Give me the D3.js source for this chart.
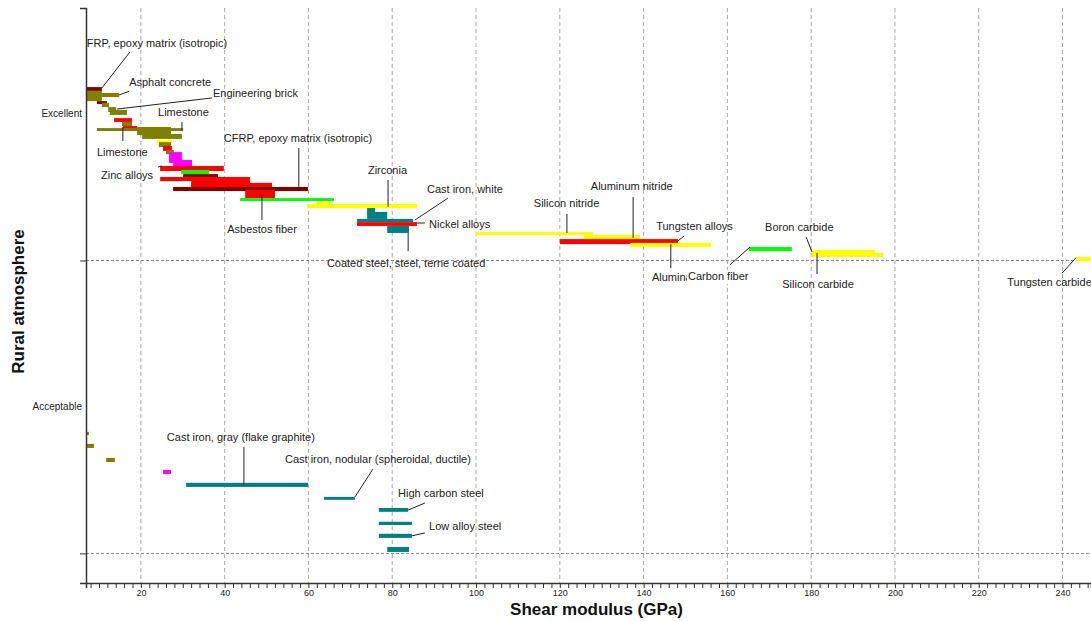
<!DOCTYPE html>
<html>
<head>
<meta charset="utf-8">
<script src="https://cdn.jsdelivr.net/npm/d3@7/dist/d3.min.js"></script>
<style>
  html, body { margin: 0; padding: 0; background: #fff; }
  svg { display: block; font-family: "Liberation Sans", Arial, sans-serif; }
</style>
</head>
<body>
<svg id="chart" width="1091" height="621"></svg>
<script>
// Rating levels on the vertical axis (Acceptable = 1, Excellent = 2)
const ratingLabels = ["Acceptable", "Excellent"];
const ratingValues = [1, 2];
const ratingBounds = [0.5, 1.5];

// Shear modulus tick values (GPa)
const xTickValues = [20, 40, 60, 80, 100, 120, 140, 160, 180, 200, 220, 240];

// Material family colours
const familyColors = {
  composite: "#800000",
  ceramic: "#808000",
  steelRed: "#ff0000",
  techCeramic: "#ffff00",
  fiber: "#00ff00",
  zinc: "#ff00ff",
  ferrous: "#008080"
};

// Material bubbles: [family, G low, G high, rating top, rating bottom]
const materialsExcellent = [
  ["composite", 6.0, 10.7, 2.092, 2.079],
  ["ceramic", 6.0, 10.7, 2.079, 2.044],
  ["ceramic", 10.7, 14.8, 2.072, 2.058],
  ["composite", 9.5, 11.9, 2.044, 2.034],
  ["ceramic", 10.7, 12.4, 2.038, 2.024],
  ["ceramic", 12.2, 14.1, 2.024, 2.007],
  ["ceramic", 12.6, 16.7, 2.014, 1.997],
  ["steelRed", 13.6, 17.9, 1.986, 1.973],
  ["ceramic", 15.5, 17.9, 1.973, 1.959],
  ["steelRed", 15.7, 19.1, 1.959, 1.949],
  ["ceramic", 9.5, 30.1, 1.952, 1.942],
  ["ceramic", 19.1, 27.2, 1.956, 1.928],
  ["ceramic", 20.3, 29.8, 1.932, 1.915],
  ["techCeramic", 23.85, 27.4, 1.911, 1.901],
  ["ceramic", 24.3, 27.2, 1.904, 1.887],
  ["steelRed", 25.3, 27.4, 1.891, 1.874],
  ["ceramic", 26.0, 27.9, 1.877, 1.863],
  ["zinc", 26.7, 29.8, 1.870, 1.833],
  ["zinc", 27.7, 32.2, 1.843, 1.819],
  ["steelRed", 24.6, 39.8, 1.8225, 1.8055],
  ["fiber", 29.6, 36.3, 1.809, 1.795],
  ["composite", 30.1, 38.4, 1.795, 1.782],
  ["steelRed", 24.6, 46.05, 1.785, 1.771],
  ["steelRed", 32.0, 46.05, 1.785, 1.747],
  ["steelRed", 32.0, 51.3, 1.765, 1.747],
  ["composite", 27.7, 59.9, 1.751, 1.737],
  ["steelRed", 44.9, 52.0, 1.741, 1.713],
  ["fiber", 43.7, 66.1, 1.713, 1.703],
  ["techCeramic", 62.0, 65.2, 1.700, 1.689],
  ["techCeramic", 59.7, 85.9, 1.693, 1.679],
  ["ferrous", 74.0, 75.9, 1.679, 1.662],
  ["ferrous", 74.0, 78.8, 1.666, 1.642],
  ["ferrous", 71.6, 85.0, 1.642, 1.631],
  ["steelRed", 71.6, 85.9, 1.631, 1.618],
  ["ferrous", 78.8, 84.0, 1.618, 1.594],
  ["techCeramic", 99.8, 127.9, 1.597, 1.587],
  ["techCeramic", 125.8, 139.2, 1.587, 1.573],
  ["steelRed", 120.0, 148.2, 1.573, 1.556],
  ["techCeramic", 136.8, 156.1, 1.560, 1.546],
  ["fiber", 165.2, 175.4, 1.546, 1.532],
  ["techCeramic", 180.2, 195.3, 1.536, 1.519],
  ["techCeramic", 180.2, 197.2, 1.526, 1.512],
  ["techCeramic", 243.2, 252.0, 1.512, 1.498]
];

const materialsAcceptable = [
  ["ceramic", 6.0, 7.6, 0.915, 0.904],
  ["ceramic", 7.1, 8.8, 0.874, 0.860],
  ["ceramic", 11.7, 13.8, 0.826, 0.812],
  ["zinc", 25.3, 27.2, 0.785, 0.771],
  ["ferrous", 30.8, 59.9, 0.741, 0.727],
  ["ferrous", 63.7, 71.1, 0.693, 0.683],
  ["ferrous", 76.8, 83.8, 0.655, 0.642],
  ["ferrous", 76.8, 84.7, 0.608, 0.597],
  ["ferrous", 76.8, 84.7, 0.567, 0.553],
  ["ferrous", 78.8, 84.0, 0.522, 0.505]
];

// Labels: text, anchor (G, rating) and leader from (G, rating) to (G, rating)
const labelTexts = [
  "FRP, epoxy matrix (isotropic)", "Asphalt concrete", "Engineering brick", "Limestone",
  "Limestone", "Zinc alloys", "CFRP, epoxy matrix (isotropic)", "Asbestos fiber",
  "Zirconia", "Cast iron, white", "Nickel alloys", "Coated steel, steel, terne coated",
  "Silicon nitride", "Aluminum nitride", "Tungsten alloys", "Alumina", "Carbon fiber",
  "Boron carbide", "Silicon carbide", "Tungsten carbide",
  "Cast iron, gray (flake graphite)", "Cast iron, nodular (spheroidal, ductile)",
  "High carbon steel", "Low alloy steel"
];
const labelAnchors = [
  [7.1, 2.239], [17.2, 2.106], [37.2, 2.068], [24.1, 2.003],
  [9.5, 1.867], [10.5, 1.788], [39.8, 1.915], [40.6, 1.604],
  [74.2, 1.805], [88.3, 1.741], [88.8, 1.621], [64.4, 1.488],
  [113.8, 1.693], [127.4, 1.751], [143.0, 1.614], [142.0, 1.440], [150.6, 1.444],
  [169.0, 1.611], [173.1, 1.416], [226.8, 1.423],
  [26.2, 0.894], [54.4, 0.819],
  [81.4, 0.703], [88.8, 0.590]
];
const leaderLines = [
  [17.4, 2.212, 10.7, 2.089], [17.2, 2.078, 14.8, 2.065], [37.0, 2.055, 14.3, 2.017], [29.8, 1.973, 29.8, 1.945],
  [15.7, 1.956, 15.7, 1.908], [24.1, 1.819, 25.0, 1.823], [57.7, 1.884, 57.7, 1.741], [48.9, 1.724, 48.9, 1.638],
  [79.0, 1.775, 79.0, 1.683], [93.3, 1.713, 85.4, 1.638], [87.8, 1.628, 85.9, 1.628], [83.8, 1.594, 83.8, 1.532],
  [121.7, 1.659, 121.7, 1.594], [137.5, 1.717, 137.5, 1.577], [149.7, 1.584, 148.2, 1.567], [146.5, 1.556, 146.5, 1.474], [160.6, 1.485, 165.4, 1.546],
  [178.8, 1.580, 180.2, 1.529], [181.4, 1.526, 181.4, 1.454], [239.9, 1.457, 243.2, 1.509],
  [44.6, 0.863, 44.6, 0.734], [75.4, 0.788, 71.1, 0.693],
  [87.8, 0.672, 83.8, 0.648], [87.8, 0.570, 84.7, 0.560]
];

const svg = d3.select("#chart");
const plot = { left: 86, right: 1091, top: 8, bottom: 583 };

const x = d3.scaleLinear().domain([6.9, 246.8]).range([plot.left, plot.right]);
const y = d3.scaleLinear().domain([0.399, 2.362]).range([plot.bottom, plot.top]);

svg.append("defs").append("clipPath").attr("id", "plotClip")
  .append("rect")
  .attr("x", plot.left).attr("y", plot.top)
  .attr("width", plot.right - plot.left).attr("height", plot.bottom - plot.top);

// Vertical dashed grid
svg.append("g").selectAll("line").data(xTickValues).join("line")
  .attr("x1", d => x(d)).attr("x2", d => x(d))
  .attr("y1", plot.top).attr("y2", plot.bottom)
  .attr("stroke", "#a8a8a8").attr("stroke-width", 1)
  .attr("stroke-dasharray", "4,3");

// Horizontal dashed band boundaries
svg.append("g").selectAll("line").data(ratingBounds).join("line")
  .attr("x1", plot.left).attr("x2", plot.right)
  .attr("y1", d => Math.round(y(d)) + 0.5).attr("y2", d => Math.round(y(d)) + 0.5)
  .attr("stroke", "#888").attr("stroke-width", 1)
  .attr("stroke-dasharray", "3,2");

// Material bars
const bars = svg.append("g").attr("clip-path", "url(#plotClip)");
bars.selectAll("rect").data(materialsExcellent.concat(materialsAcceptable)).join("rect")
  .attr("x", d => x(d[1]))
  .attr("width", d => x(d[2]) - x(d[1]))
  .attr("y", d => y(d[3]))
  .attr("height", d => y(d[4]) - y(d[3]))
  .attr("fill", d => familyColors[d[0]]);

// Axes
const xAxis = d3.axisBottom(x)
  .tickValues(d3.range(8, 247, 2))
  .tickSize(5)
  .tickFormat(d => (d % 20 === 0 ? d : ""));
const gx = svg.append("g").attr("transform", `translate(0,${plot.bottom})`).call(xAxis);
gx.select(".domain").attr("stroke", "#333").attr("stroke-width", 1.5);
gx.selectAll(".tick line").attr("stroke", "#333");
gx.selectAll(".tick text")
  .attr("font-size", 9).attr("fill", "#222").attr("y", 7).attr("dy", "0.71em");

const yAxis = d3.axisLeft(y)
  .tickValues(ratingBounds)
  .tickSize(6)
  .tickFormat("");
const gy = svg.append("g").attr("transform", `translate(${plot.left},0)`).call(yAxis);
gy.select(".domain").attr("stroke", "#333").attr("stroke-width", 1.5);
gy.selectAll(".tick line").attr("stroke", "#333");

svg.append("g").selectAll("text").data(ratingValues).join("text")
  .attr("x", plot.left - 4)
  .attr("y", d => y(d))
  .attr("text-anchor", "end")
  .attr("dominant-baseline", "middle")
  .attr("font-size", 10).attr("fill", "#222")
  .text((d, i) => ratingLabels[i]);

// Axis titles
svg.append("text")
  .attr("x", (plot.left + plot.right) / 2 + 8).attr("y", 615)
  .attr("text-anchor", "middle")
  .attr("font-size", 17).attr("font-weight", "bold").attr("fill", "#111")
  .text("Shear modulus (GPa)");

svg.append("text")
  .attr("transform", `translate(24,${y(1.36)}) rotate(-90)`)
  .attr("text-anchor", "middle")
  .attr("font-size", 17).attr("font-weight", "bold").attr("fill", "#111")
  .text("Rural atmosphere");

// Leaders and labels
const ann = svg.append("g").attr("clip-path", "url(#plotClip)");
ann.selectAll("line").data(leaderLines).join("line")
  .attr("x1", d => x(d[0])).attr("y1", d => y(d[1]))
  .attr("x2", d => x(d[2])).attr("y2", d => y(d[3]))
  .attr("stroke", "#222").attr("stroke-width", 1);

const labelData = labelTexts.map((t, i) => ({ text: t, g: labelAnchors[i][0], r: labelAnchors[i][1] }));
const labelG = ann.selectAll("g.lbl").data(labelData).join("g").attr("class", "lbl");
labelG.each(function(d) {
  const g = d3.select(this);
  if (d.text === "Carbon fiber") {
    g.append("rect")
      .attr("x", x(d.g) - 1).attr("y", y(d.r) - 7)
      .attr("width", 64).attr("height", 14).attr("fill", "#fff");
  }
  g.append("text")
    .attr("x", x(d.g)).attr("y", y(d.r))
    .attr("dominant-baseline", "middle")
    .attr("font-size", 11).attr("fill", "#222")
    .text(d.text);
});
</script>
</body>
</html>
